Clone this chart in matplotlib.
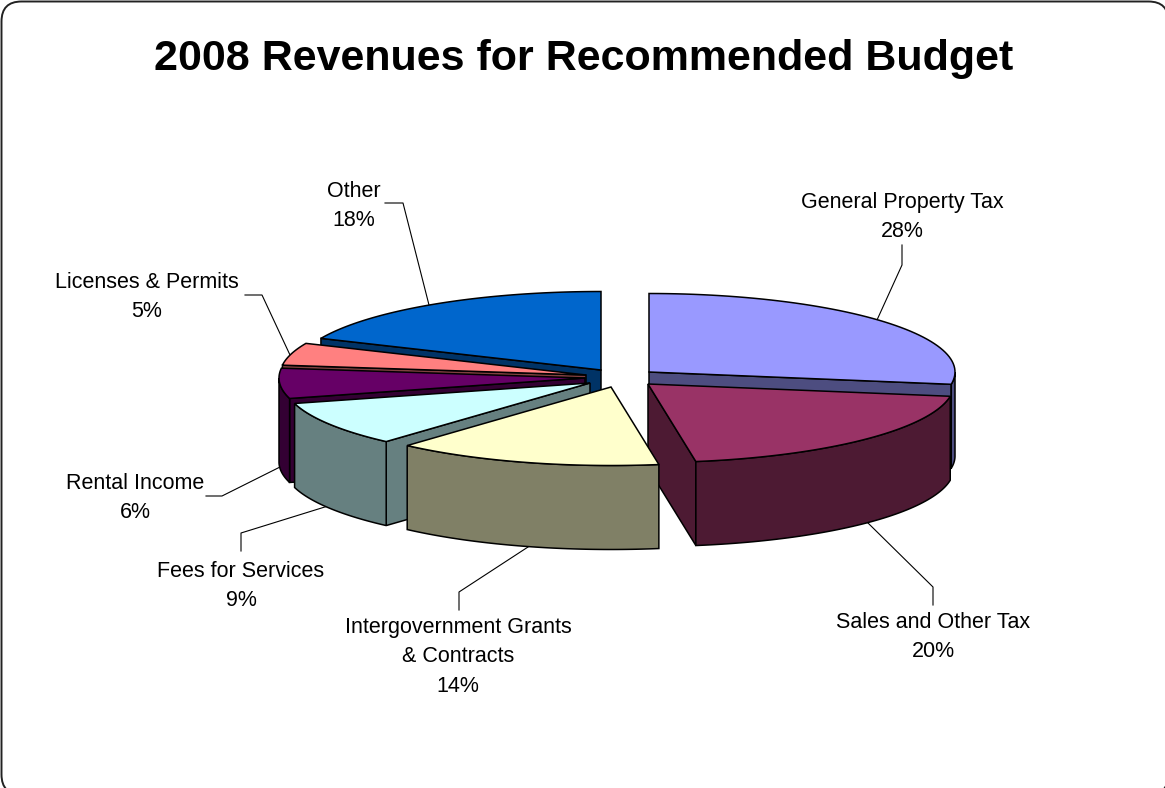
import numpy as np
import matplotlib
matplotlib.use('Agg')
import matplotlib.pyplot as plt
from matplotlib.patches import Polygon, FancyBboxPatch

plt.rcParams['font.family'] = ['Liberation Sans', 'DejaVu Sans']

categories = ['General Property Tax', 'Sales and Other Tax', 'Intergovernment Grants\n& Contracts',
              'Fees for Services', 'Rental Income', 'Licenses & Permits', 'Other']
shares = [27.5, 20.0, 14.1, 9.2, 6.2, 4.6, 18.4]
percent_labels = ['28%', '20%', '14%', '9%', '6%', '5%', '18%']
top_colors = ['#9999FF', '#993366', '#FFFFCC', '#CCFFFF', '#660066', '#FF8080', '#0066CC']
wall_colors = ['#4D4D80', '#4D1A33', '#808066', '#668080', '#330033', '#804040', '#003366']

# where each exploded slice has its tip, in pixels
tip_x = [649, 648, 611, 590, 585, 586, 601]
tip_y = [372, 384, 387, 383, 378, 375, 370]
rx = 306
ry = 78.5
depth = 84

# back to front, so the nearer slices cover the others
draw_order = [6, 5, 4, 0, 3, 1, 2]

# label centre, then the leader line
label_pos = [(902, 217), (933, 637), (458, 657), (241, 586), (135, 498), (147, 297), (354, 206)]
leaders = [[(877, 320), (902, 265), (902, 245)],
           [(868, 523), (933, 587), (933, 605)],
           [(528, 547), (459, 592), (459, 610)],
           [(328, 506), (241, 533), (241, 551)],
           [(280, 467), (222, 496), (206, 496)],
           [(290, 355), (262, 295), (245, 295)],
           [(429, 305), (403, 203), (385, 203)]]

fig = plt.figure(figsize=(11.65, 7.88), dpi=100)
ax = fig.add_axes([0, 0, 1, 1])
ax.set_xlim(0, 1165)
ax.set_ylim(788, 0)
ax.axis('off')

frame = FancyBboxPatch((1.5, 1.5), 1167, 793, boxstyle='round,pad=0,rounding_size=20',
                       facecolor='white', edgecolor='#222222', linewidth=1.4)
ax.add_patch(frame)


def rim_point(i, a):
    # a in degrees, clockwise from the back of the pie
    r = np.radians(a)
    return tip_x[i] + rx * np.sin(r), tip_y[i] - ry * np.cos(r)


def arc(i, a0, a1):
    angles = np.linspace(a0, a1, 60)
    return [rim_point(i, a) for a in angles]


edges = np.concatenate([[0], np.cumsum(shares)]) / np.sum(shares) * 360

for i in draw_order:
    a0, a1 = edges[i], edges[i + 1]
    tip = (tip_x[i], tip_y[i])

    # flat cut faces, only the ones turned to the viewer
    for a, side in [(a0, -1), (a1, 1)]:
        r = np.radians(a)
        front = side * np.sin(r)
        if front > 0.001:
            p = rim_point(i, a)
            quad = [tip, p, (p[0], p[1] + depth), (tip[0], tip[1] + depth)]
            ax.add_patch(Polygon(quad, facecolor=wall_colors[i], edgecolor='black', linewidth=1.1, zorder=2))

    # round outer wall
    b0, b1 = max(a0, 90), min(a1, 270)
    if b1 > b0:
        top_edge = arc(i, b0, b1)
        low_edge = [(x, y + depth) for x, y in top_edge[::-1]]
        ax.add_patch(Polygon(top_edge + low_edge, facecolor=wall_colors[i], edgecolor='black',
                             linewidth=1.1, zorder=2))

    ax.add_patch(Polygon([tip] + arc(i, a0, a1), facecolor=top_colors[i], edgecolor='black',
                         linewidth=1.1, zorder=2))

for i in range(len(categories)):
    xs, ys = zip(*leaders[i])
    ax.plot(xs, ys, color='black', linewidth=0.8, zorder=1)
    ax.text(label_pos[i][0], label_pos[i][1], categories[i] + '\n' + percent_labels[i],
            ha='center', va='center', fontsize=15.5, linespacing=1.53, color='black', zorder=3)

ax.text(583.5, 59, '2008 Revenues for Recommended Budget', ha='center', va='center',
        fontsize=31, fontweight='bold', color='black')

fig.savefig('out.png', dpi=100)
